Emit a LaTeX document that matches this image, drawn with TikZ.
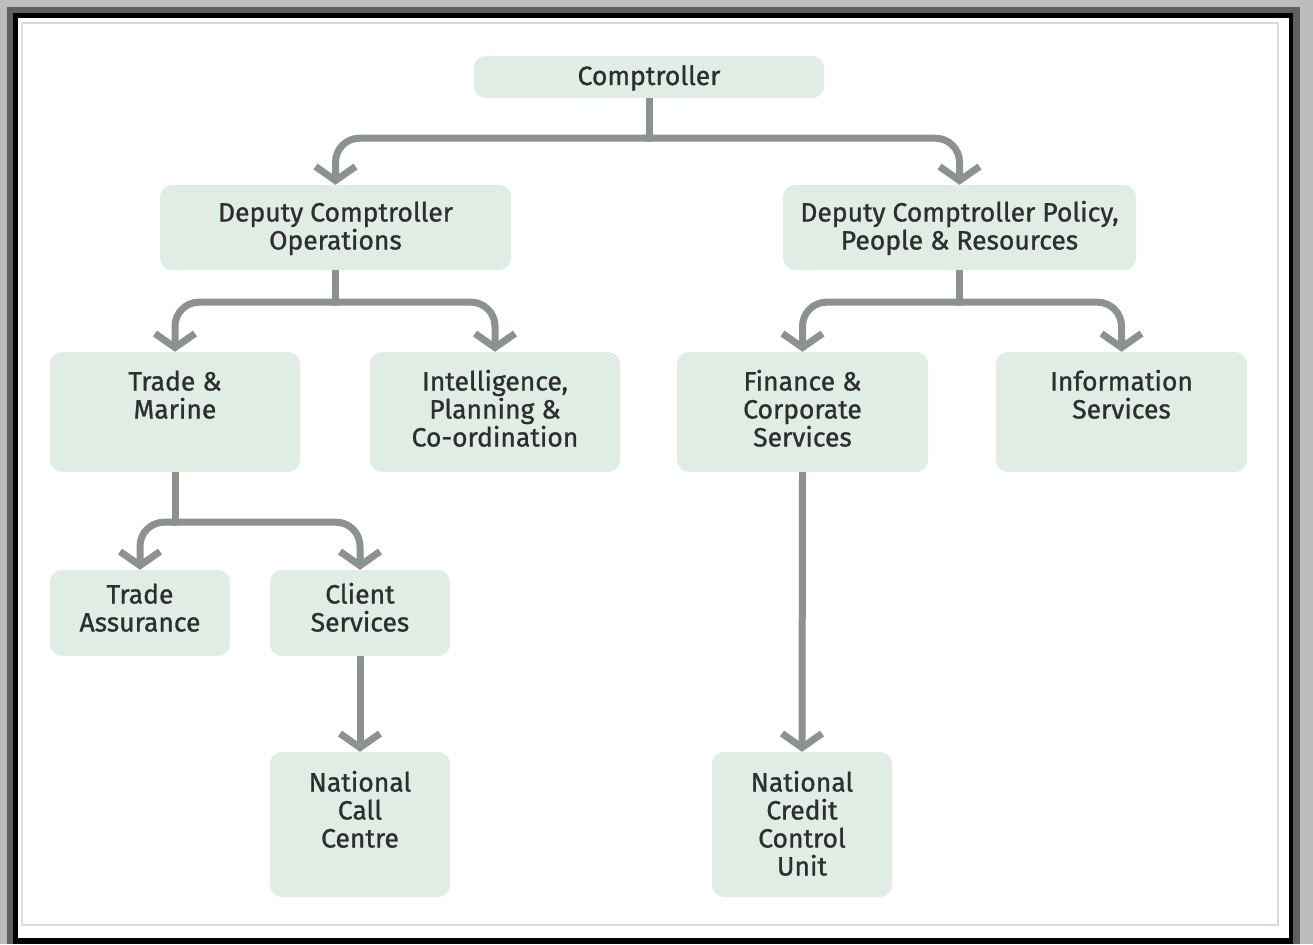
\documentclass[tikz,border=0pt]{standalone}
\usepackage{fontspec}
\setmainfont{Fira Sans}
\newfontfamily\lblfamily{Fira Sans}[FakeBold=1.0]
\usetikzlibrary{arrows.meta}
\definecolor{boxfill}{HTML}{DFEDE5}
\definecolor{linec}{HTML}{8C9192}
\definecolor{txt}{HTML}{2E2E2E}
\definecolor{outerg}{HTML}{BDBDBD}
\definecolor{darkg}{HTML}{5F5F5F}
\definecolor{innerl}{HTML}{D6DDDD}
\newcommand{\lblfont}{\lblfamily\fontsize{26.5}{28}\selectfont}
\tikzset{
  box/.style={fill=boxfill, draw=none, rounded corners=12pt, inner sep=0pt},
  lbl/.style={font=\lblfont, text=txt, align=center, inner sep=0pt, anchor=base},
  conn/.style={draw=linec, line width=7pt, rounded corners=24pt, -{Straight Barb[length=14pt,width=40pt]}},
  stem/.style={draw=linec, line width=7pt}
}
\begin{document}
\begin{tikzpicture}[x=1pt,y=-1pt]
\useasboundingbox (0,0) rectangle (1313,944);
% frame
\fill[outerg] (0,0) rectangle (1313,944);
\fill[darkg] (7,7) rectangle (1300,944);
\fill[black] (13,13) rectangle (1293,944);
\fill[white] (18,18) rectangle (1289,938);
\draw[innerl, line width=2pt] (22,23) rectangle (1278,925);
% boxes
\node[box, minimum width=350pt, minimum height=42pt] (comp) at (649,77) {};
\node[box, minimum width=351pt, minimum height=85pt] (ops) at (335.5,227.5) {};
\node[box, minimum width=353pt, minimum height=85pt] (pol) at (959.5,227.5) {};
\node[box, minimum width=250pt, minimum height=120pt] (tm) at (175,412) {};
\node[box, minimum width=250pt, minimum height=120pt] (ipc) at (495,412) {};
\node[box, minimum width=251pt, minimum height=120pt] (fcs) at (802.5,412) {};
\node[box, minimum width=251pt, minimum height=120pt] (is) at (1121.5,412) {};
\node[box, minimum width=180pt, minimum height=86pt] (ta) at (140,613) {};
\node[box, minimum width=180pt, minimum height=86pt] (cs) at (360,613) {};
\node[box, minimum width=180pt, minimum height=145pt] (ncc) at (360,824.5) {};
\node[box, minimum width=180pt, minimum height=145pt] (nccu) at (802,824.5) {};
% labels (base = baseline of the last line)
\node[lbl] (compt) at (649,85) {Comptroller};
\node[lbl] (opst) at (335.5,249.5) {Deputy Comptroller\\Operations};
\node[lbl] (polt) at (959.5,249.5) {Deputy Comptroller Policy,\\People \& Resources};
\node[lbl] (tmt) at (175,418.5) {Trade \&\\Marine};
\node[lbl] (ipct) at (495,446.5) {Intelligence,\\Planning \&\\Co-ordination};
\node[lbl] (fcst) at (802.5,446.5) {Finance \&\\Corporate\\Services};
\node[lbl] (ist) at (1121.5,418.5) {Information\\Services};
\node[lbl] (tat) at (140,631.5) {Trade\\Assurance};
\node[lbl] (cst) at (360,631.5) {Client\\Services};
\node[lbl] (ncct) at (360,847.5) {National\\Call\\Centre};
\node[lbl] (nccut) at (802,875.5) {National\\Credit\\Control\\Unit};
% junctions
\path (comp.south) ++(0,40) coordinate (j1);
\path (ops.south) ++(0,32) coordinate (j2);
\path (pol.south) ++(0,32) coordinate (j3);
\path (tm.south) ++(0,50) coordinate (j4);
% connectors
\draw[stem] (comp.south) -- (j1);
\draw[conn] ([xshift=3.5pt]j1) -| (ops.north);
\draw[conn] ([xshift=-3.5pt]j1) -| (pol.north);
\draw[stem] (ops.south) -- (j2);
\draw[conn] ([xshift=3.5pt]j2) -| (tm.north);
\draw[conn] ([xshift=-3.5pt]j2) -| (ipc.north);
\draw[stem] (pol.south) -- (j3);
\draw[conn] ([xshift=3.5pt]j3) -| (fcs.north);
\draw[conn] ([xshift=-3.5pt]j3) -| (is.north);
\draw[stem] (tm.south) -- (j4);
\draw[conn] ([xshift=3.5pt]j4) -| (ta.north);
\draw[conn] ([xshift=-3.5pt]j4) -| (cs.north);
\draw[conn] (cs.south) -- (ncc.north);
\draw[conn] (fcs.south) -- (nccu.north);
\end{tikzpicture}
\end{document}
